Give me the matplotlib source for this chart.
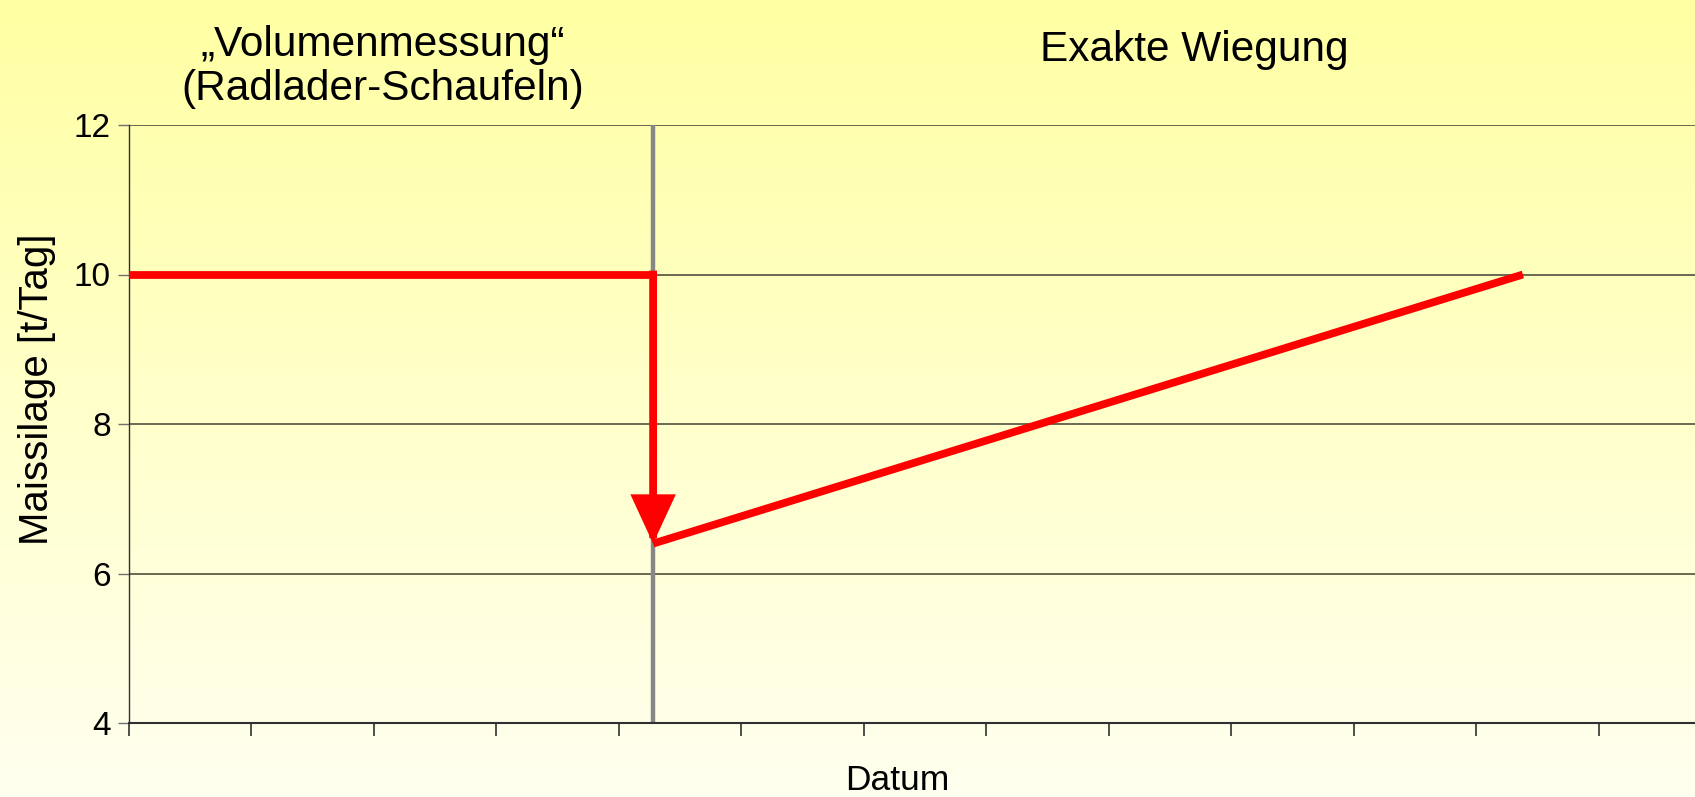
import numpy as np
import matplotlib
matplotlib.use("Agg")
import matplotlib.pyplot as plt

plt.rcParams['font.family'] = ['Liberation Sans', 'DejaVu Sans']

# ---- data ----
n_categories = 13                 # date category ticks (0..12)
switch_x = 4.28                   # change of measurement method
volumen_x = [0, 4.28]
volumen_y = [10, 10]
drop_from = 10
drop_to = 6.4
wiegung_x = [4.28, 11.38]
wiegung_y = [6.4, 10]
yticks = [4, 6, 8, 10, 12]
ylim = (4, 12)
xlim = (0, 12.785)

title_left = "\u201eVolumenmessung\u201c\n(Radlader-Schaufeln)"
title_right = "Exakte Wiegung"
xlabel = "Datum"
ylabel = "Maissilage [t/Tag]"

W, H, DPI = 1695, 797, 100
fig = plt.figure(figsize=(W / DPI, H / DPI), dpi=DPI)

# background gradient
bg = fig.add_axes([0, 0, 1, 1], zorder=-10)
grad = np.linspace(0, 1, 256).reshape(-1, 1)
top = np.array([255, 255, 163]) / 255
bot = np.array([255, 255, 240]) / 255
img = top[None, None, :] * (1 - grad[:, :, None]) + bot[None, None, :] * grad[:, :, None]
bg.imshow(img, aspect='auto', extent=[0, 1, 0, 1], origin='upper')
bg.set_axis_off()

left = 128.8 / W
bottom = 1 - 723 / H
topy = 1 - 125 / H
ax = fig.add_axes([left, bottom, 1 - left, topy - bottom])
ax.set_facecolor('none')
ax.set_xlim(*xlim)
ax.set_ylim(*ylim)

ax.set_yticks(yticks)
ax.set_yticklabels([str(v) for v in yticks])
ax.set_xticks(np.arange(n_categories))
ax.set_xticklabels([])
ax.tick_params(axis='y', length=8, width=1, color='#707070', pad=5, labelsize=24)
ax.tick_params(axis='x', length=9, width=1.2, color='#303030')

ax.grid(axis='y', color='#5e5e48', lw=1.3, zorder=1)
for s in ['top', 'right']:
    ax.spines[s].set_visible(False)
ax.spines['left'].set_color('#303030')
ax.spines['left'].set_linewidth(1.0)
ax.spines['bottom'].set_color('#303030')
ax.spines['bottom'].set_linewidth(1.5)

ax.axvline(switch_x, color='#878787', lw=3.2, zorder=2)

red = '#ff0000'
LW = 5.6
ax.plot(volumen_x, volumen_y, color=red, lw=LW, solid_capstyle='butt', zorder=4)
ax.annotate('', xy=(switch_x, drop_to), xytext=(switch_x, drop_from),
            arrowprops=dict(arrowstyle='-|>,head_length=1.3,head_width=0.6',
                            color=red, lw=LW, shrinkA=0, shrinkB=0,
                            mutation_scale=20, joinstyle='miter',
                            capstyle='projecting'),
            zorder=4)
ax.plot(wiegung_x, wiegung_y, color=red, lw=LW, solid_capstyle='butt', zorder=4)

fig.text(383 / W, 1 - 67 / H, title_left, ha='center', va='center',
         fontsize=30.5, linespacing=1.12)
fig.text(1194 / W, 1 - 50 / H, title_right, ha='center', va='center', fontsize=30.5)
fig.text(897 / W, 1 - 780 / H, xlabel, ha='center', va='center', fontsize=25.5)
fig.text(37 / W, 1 - 389 / H, ylabel, ha='center', va='center', rotation=90,
         fontsize=29)

fig.savefig('out.png', dpi=DPI)
